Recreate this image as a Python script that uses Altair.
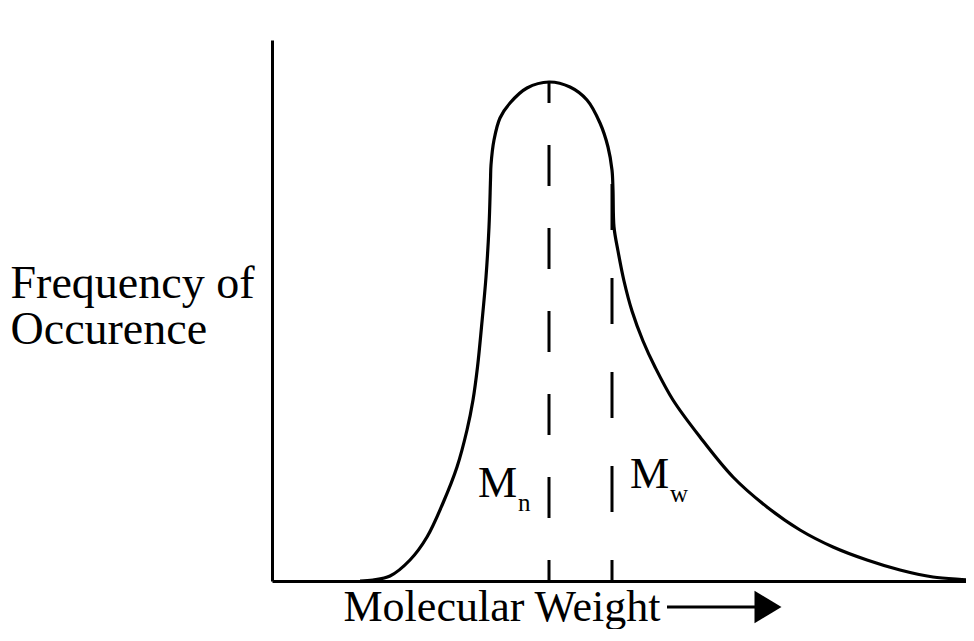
import altair as alt
import pandas as pd

# Curve of the molecular-weight distribution (arbitrary units)
curve_x = [88, 101, 118, 138, 155, 171, 185, 195, 201, 205.5, 209.5, 214, 217, 218.5, 219, 222,
           228, 238, 255, 277, 298, 315, 328, 336, 340, 341, 342, 346, 352, 360, 371, 383,
           401, 428, 461, 495, 528, 561, 595, 628, 661, 695, 702]
curve_y = [0, 1, 5, 21, 44, 78, 114, 151, 181, 214, 254, 304, 354, 401, 416, 441,
           463, 478, 493, 499, 494, 481, 458, 434, 411, 391, 354, 330, 300, 270, 240, 214,
           181, 144, 104, 74, 51, 34, 21, 11, 4, 1, 0]

# Average molecular weights (dashed markers)
avg_names = ["Mn", "Mw"]
avg_x = [277, 340]
avg_top = [499, 398]

# Labels
label_main = ["M", "M"]
label_sub = ["n", "w"]
label_x = [206, 358]
label_y = [84, 93]
sub_x = [246, 398]
sub_y = [70, 79]

# Arrow next to the x title
arrow_x0 = [395]
arrow_x1 = [490]
arrow_head_x = [496]
arrow_y = [-26]

SERIF = "Liberation Serif"

curve = pd.DataFrame({"order": list(range(len(curve_x))), "mw": curve_x, "freq": curve_y})
avgs = pd.DataFrame({"name": avg_names, "x": avg_x, "y0": [0, 0], "y1": avg_top})
labels = pd.DataFrame({"t": label_main, "x": label_x, "y": label_y})
subs = pd.DataFrame({"t": label_sub, "x": sub_x, "y": sub_y})
arrow = pd.DataFrame({"x0": arrow_x0, "x1": arrow_x1, "hx": arrow_head_x, "y": arrow_y})

x_scale = alt.Scale(domain=[0, 694], nice=False, zero=False)
y_scale = alt.Scale(domain=[0, 541], nice=False, zero=False)

x_axis = alt.Axis(
    title="Molecular Weight", domain=True, domainColor="black", domainWidth=3,
    ticks=False, labels=False, grid=False,
    titleFont=SERIF, titleFontSize=44, titleFontWeight="normal", titleColor="black",
    titleAlign="left", titleBaseline="alphabetic", titleX=71, titleY=39,
)
y_axis = alt.Axis(
    title=["Frequency of", "Occurence"], domain=True, domainColor="black", domainWidth=3,
    ticks=False, labels=False, grid=False,
    titleFont=SERIF, titleFontSize=46, titleFontWeight="normal", titleColor="black",
    titleAngle=0, titleAlign="left", titleBaseline="alphabetic",
    titleX=-262, titleY=257, titleLineHeight=46,
)


def X(field):
    return alt.X(field, type="quantitative", scale=x_scale, axis=x_axis)


def Y(field):
    return alt.Y(field, type="quantitative", scale=y_scale, axis=y_axis)


line = alt.Chart(curve).mark_line(
    color="black", strokeWidth=3.2, interpolate="catmull-rom"
).encode(x=X("mw"), y=Y("freq"), order="order:Q")

mn_rule = alt.Chart(avgs[avgs.name == "Mn"]).mark_rule(
    color="black", strokeWidth=3, strokeDash=[41, 42], strokeDashOffset=20
).encode(x=X("x"), y=Y("y0"), y2="y1:Q")

mw_rule = alt.Chart(avgs[avgs.name == "Mw"]).mark_rule(
    color="black", strokeWidth=3, strokeDash=[46, 48], strokeDashOffset=25
).encode(x=X("x"), y=Y("y0"), y2="y1:Q")

main_text = alt.Chart(labels).mark_text(
    font=SERIF, fontSize=44, align="left", baseline="alphabetic", color="black"
).encode(x=X("x"), y=Y("y"), text="t:N")

sub_text = alt.Chart(subs).mark_text(
    font=SERIF, fontSize=25, align="left", baseline="alphabetic", color="black"
).encode(x=X("x"), y=Y("y"), text="t:N")

arrow_line = alt.Chart(arrow).mark_rule(color="black", strokeWidth=3).encode(
    x=X("x0"), x2="x1:Q", y=Y("y")
)
arrow_head = alt.Chart(arrow).mark_point(
    shape="M-1,-1.2L1,0L-1,1.2Z", size=729, filled=True, color="black", opacity=1
).encode(x=X("hx"), y=Y("y"))

chart = alt.layer(
    line, mn_rule, mw_rule, main_text, sub_text, arrow_line, arrow_head
).properties(
    width=694, height=541,
    autosize=alt.AutoSizeParams(type="none"),
    padding={"left": 264, "top": 32, "right": 0, "bottom": 48},
    background="white",
).configure_view(stroke=None)

chart.save("out.html", embed_options={"renderer": "svg", "actions": False})
